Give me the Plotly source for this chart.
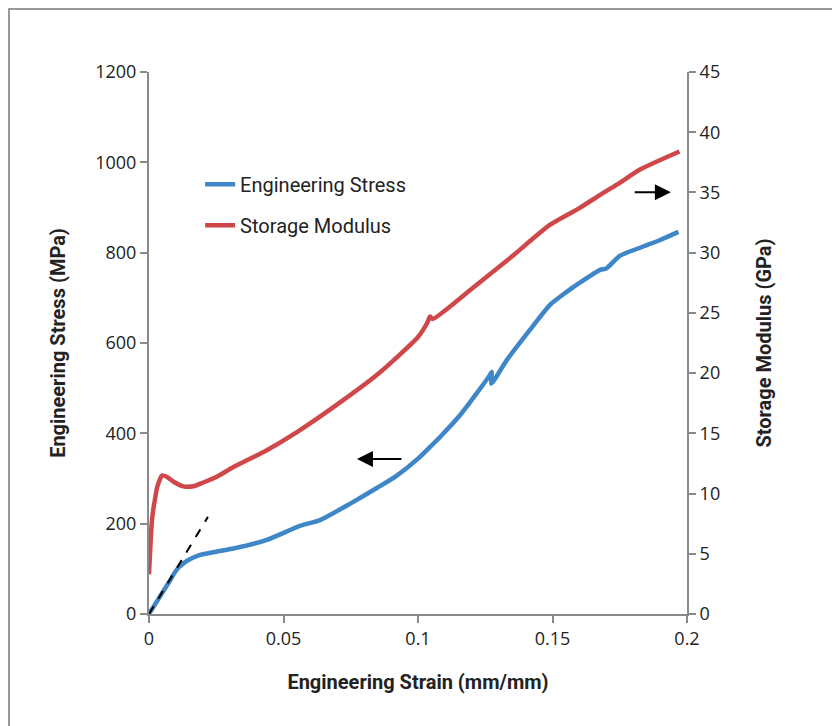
import plotly.graph_objects as go

# Engineering stress (left axis)
stress_strain = [0, 0.002, 0.004, 0.006, 0.008, 0.0097, 0.0112, 0.0128, 0.0145, 0.0165, 0.019, 0.025,
                 0.0314, 0.0438, 0.0561, 0.0636, 0.075, 0.085, 0.092, 0.1, 0.1045, 0.1082, 0.1156,
                 0.122, 0.1268, 0.1274, 0.1272, 0.128, 0.133, 0.1416, 0.149, 0.155,
                 0.160, 0.1677, 0.170, 0.175, 0.183, 0.19, 0.1968]
stress_mpa = [0, 19, 38, 57, 76, 93, 104, 112, 119, 125, 131, 138,
              145, 164, 195, 208, 245, 280, 306, 344, 370, 392, 440,
              490, 530, 536, 510, 515, 562, 629, 684, 712,
              733, 762, 765, 793, 812, 828, 846]

# Storage modulus (right axis)
mod_strain = [0, 0.0005, 0.001, 0.0016, 0.0022, 0.003, 0.0041, 0.0048, 0.0066, 0.009, 0.0128, 0.0165,
              0.02, 0.0252, 0.0314, 0.0438, 0.055, 0.07, 0.085, 0.1000, 0.1035, 0.1045, 0.1055,
              0.12, 0.135, 0.149, 0.16, 0.1677, 0.175, 0.1825, 0.1972]
mod_gpa = [3.3, 5.6, 7.5, 8.7, 9.5, 10.5, 11.2, 11.5, 11.4, 11.0, 10.6, 10.6,
           10.9, 11.4, 12.2, 13.6, 15.1, 17.4, 19.9, 23.0, 24.2, 24.7, 24.5,
           27.0, 29.7, 32.3, 33.7, 34.8, 35.8, 36.9, 38.4]

# Initial elastic slope (dashed)
slope_strain = [0, 0.0219]
slope_mpa = [0, 215]

x_ticks = [0, 0.05, 0.1, 0.15, 0.2]
x_labels = ["0", "0.05", "0.1", "0.15", "0.2"]
y_ticks = [0, 200, 400, 600, 800, 1000, 1200]
y2_ticks = [0, 5, 10, 15, 20, 25, 30, 35, 40, 45]

BLUE = "#3F86C8"
RED = "#D0474A"
AX = "#8a8a8a"
TICKFONT = dict(family="Open Sans, Liberation Sans, sans-serif", size=18, color="#222")
TITLEFONT = dict(family="Liberation Sans Narrow, Roboto, sans-serif", size=20, color="#222", weight="bold")

fig = go.Figure()
fig.add_trace(go.Scatter(x=stress_strain, y=stress_mpa, mode="lines", name="Engineering Stress",
                         legendgroup="a", line=dict(color=BLUE, width=4.5, shape="spline", smoothing=0.6)))
fig.add_trace(go.Scatter(x=mod_strain, y=mod_gpa, mode="lines", name="Storage Modulus",
                         legendgroup="b", line=dict(color=RED, width=4.5, shape="spline", smoothing=0.6),
                         yaxis="y2"))
fig.add_trace(go.Scatter(x=slope_strain, y=slope_mpa, mode="lines", showlegend=False,
                         line=dict(color="black", width=2, dash="dash")))

fig.update_layout(
    width=840, height=726,
    margin=dict(l=141, r=161, t=64, b=120),
    paper_bgcolor="white", plot_bgcolor="white",
    showlegend=True,
    legend=dict(x=0.095, y=0.829, xanchor="left", yanchor="top", bgcolor="rgba(0,0,0,0)",
                font=dict(family="Liberation Sans Narrow, Roboto, sans-serif", size=20, color="#222"),
                tracegroupgap=12),
    xaxis=dict(range=[0, 0.2], tickvals=x_ticks, ticktext=x_labels, showgrid=False, zeroline=False,
               showline=True, linecolor=AX, linewidth=2, ticks="outside", tickcolor=AX, ticklen=7, tickwidth=2,
               tickfont=TICKFONT,
               title=dict(text="Engineering Strain (mm/mm)", font=TITLEFONT, standoff=26)),
    yaxis=dict(range=[0, 1200], tickvals=y_ticks, showgrid=False, zeroline=False,
               showline=True, linecolor=AX, linewidth=2, ticks="outside", tickcolor=AX, ticklen=7, tickwidth=2,
               tickfont=TICKFONT,
               title=dict(text="Engineering Stress (MPa)", font=TITLEFONT, standoff=24)),
    yaxis2=dict(range=[0, 45], tickvals=y2_ticks, overlaying="y", side="right", showgrid=False, zeroline=False,
                showline=True, linecolor=AX, linewidth=2, ticks="outside", tickcolor=AX, ticklen=7, tickwidth=2,
                tickfont=TICKFONT,
                title=dict(text="Storage Modulus (GPa)", font=TITLEFONT, standoff=38)),
    shapes=[dict(type="rect", xref="paper", yref="paper", x0=-0.2602, x1=2.0, y0=-1.0, y1=1.1162,
                 line=dict(color="#777", width=1.5), fillcolor="rgba(0,0,0,0)", layer="below")],
    annotations=[
        dict(x=0.0773, y=343, ax=0.0944, ay=343, xref="x", yref="y", axref="x", ayref="y",
             text="", showarrow=True, arrowhead=2, arrowsize=1.6, arrowwidth=2, arrowcolor="black"),
        dict(x=0.194, y=934, ax=0.180, ay=934, xref="x", yref="y", axref="x", ayref="y",
             text="", showarrow=True, arrowhead=2, arrowsize=1.6, arrowwidth=2, arrowcolor="black"),
    ],
)

fig.write_html("out.html")
